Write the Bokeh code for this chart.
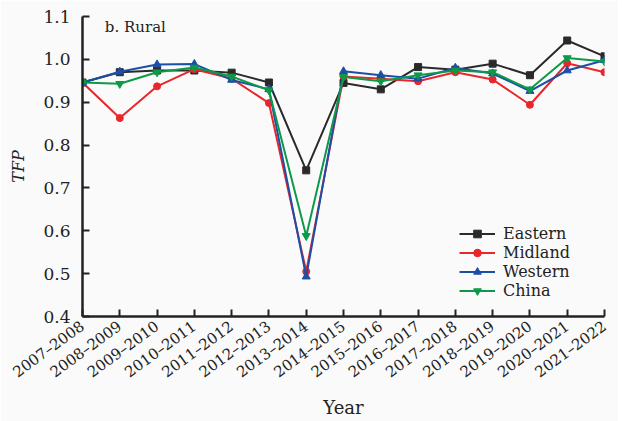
from bokeh.plotting import figure
from bokeh.models import FixedTicker, PrintfTickFormatter, Legend, LegendItem, Label
from bokeh.embed import file_html
from bokeh.resources import INLINE

periods = ["2007–2008", "2008–2009", "2009–2010", "2010–2011", "2011–2012",
           "2012–2013", "2013–2014", "2014–2015", "2015–2016", "2016–2017",
           "2017–2018", "2018–2019", "2019–2020", "2020–2021", "2021–2022"]
eastern = [0.946, 0.970, 0.974, 0.974, 0.969, 0.946, 0.741, 0.945, 0.930, 0.982,
           0.976, 0.990, 0.963, 1.044, 1.007]
midland = [0.946, 0.863, 0.937, 0.977, 0.955, 0.898, 0.505, 0.960, 0.955, 0.949,
           0.970, 0.953, 0.894, 0.991, 0.970]
western = [0.946, 0.971, 0.988, 0.989, 0.952, 0.930, 0.493, 0.972, 0.963, 0.955,
           0.980, 0.967, 0.926, 0.974, 0.998]
china = [0.946, 0.943, 0.970, 0.981, 0.960, 0.928, 0.588, 0.959, 0.949, 0.963,
         0.974, 0.970, 0.930, 1.003, 0.995]
y_ticks = [0.4, 0.5, 0.6, 0.7, 0.8, 0.9, 1.0, 1.1]

FONT = "DejaVu Serif"
BG = "#fafafa"

xs = list(range(len(periods)))

p = figure(width=618, height=421, x_range=(0, len(periods) - 1), y_range=(0.4, 1.1),
           output_backend="svg", toolbar_location=None,
           min_border_left=82, min_border_right=14, min_border_top=16, min_border_bottom=105)
p.background_fill_color = BG
p.border_fill_color = BG
p.outline_line_color = None
p.grid.visible = False

for ax in (p.xaxis[0], p.yaxis[0]):
    ax.axis_line_width = 2.5
    ax.axis_line_color = "#222222"
    ax.major_tick_line_width = 2
    ax.major_tick_line_color = "#222222"
    ax.major_tick_in = 7
    ax.major_tick_out = 0
    ax.minor_tick_line_color = None
    ax.major_label_text_font = FONT
    ax.major_label_text_color = "#222222"
    ax.axis_label_text_font = FONT
    ax.axis_label_text_color = "#222222"
    ax.axis_label_text_font_style = "normal"

p.xaxis.ticker = FixedTicker(ticks=xs)
p.xaxis.major_label_overrides = {i: s for i, s in enumerate(periods)}
p.xaxis.major_label_orientation = 0.63
p.xaxis.major_label_text_font_size = "15px"
p.xaxis.major_label_standoff = 8
p.xaxis.axis_label = "Year"
p.xaxis.axis_label_text_font_size = "18px"
p.xaxis.axis_label_standoff = 6

p.yaxis.ticker = FixedTicker(ticks=y_ticks)
p.yaxis.formatter = PrintfTickFormatter(format="%.1f")
p.yaxis.major_label_text_font_size = "17px"
p.yaxis.major_label_standoff = 12
p.yaxis.axis_label = "TFP"
p.yaxis.axis_label_text_font_size = "16px"
p.yaxis.axis_label_text_font_style = "italic"
p.yaxis.axis_label_standoff = 12

series = [
    ("Eastern", eastern, "#2a2a2a", "square", 7),
    ("Midland", midland, "#e8262b", "circle", 7),
    ("Western", western, "#1c4fa6", "triangle", 8),
    ("China", china, "#0c9a48", "inverted_triangle", 8),
]
items = []
for name, vals, col, mk, sz in series:
    r1 = p.line(xs, vals, line_color=col, line_width=2)
    r2 = p.scatter(xs, vals, marker=mk, size=sz, fill_color=col, line_color=col)
    items.append(LegendItem(label=name, renderers=[r1, r2]))

legend = Legend(items=items, location=(377, 16), orientation="vertical",
                border_line_color=None, background_fill_alpha=0,
                label_text_font=FONT, label_text_font_size="16px",
                label_text_color="#222222",
                glyph_width=36, glyph_height=19, label_height=19,
                label_standoff=8, spacing=0, padding=2, margin=0)
p.add_layout(legend)

p.add_layout(Label(x=0.6, y=1.097, text="b. Rural", text_font=FONT,
                   text_font_size="15px", text_baseline="top",
                   text_color="#222222"))

open("out.html", "w").write(file_html(p, INLINE))
